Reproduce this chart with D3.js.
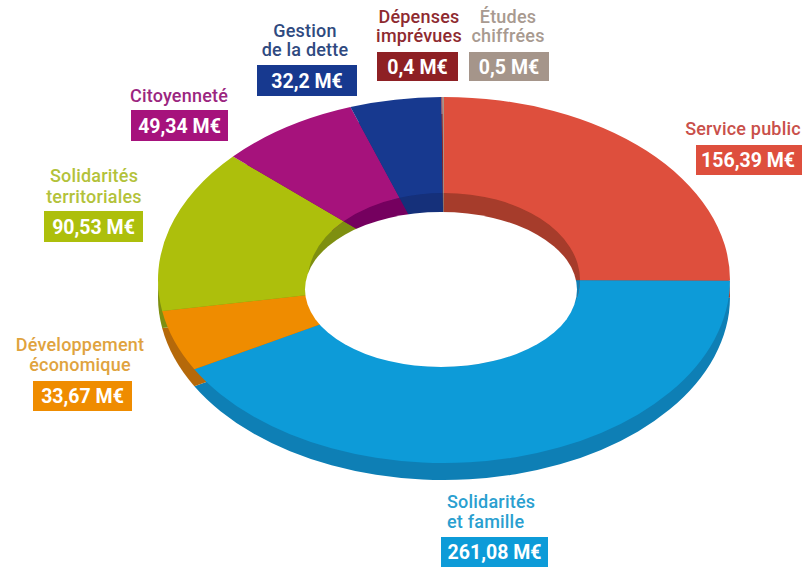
<!DOCTYPE html>
<html lang="fr">
<head>
<meta charset="UTF-8">
<title>Budget</title>
<style>
  html, body { margin: 0; background: #fff; }
  svg { display: block; }
  text { font-family: Roboto, "Noto Sans", sans-serif; font-weight: 500; }
  .name { font-size: 18px; letter-spacing: .2px; }
  .amount { font-size: 19.5px; font-weight: 700; fill: #fff; text-anchor: middle; }
</style>
</head>
<body>
<script src="https://cdn.jsdelivr.net/npm/d3@7"></script>
<script>
// clockwise from 12 o'clock
var categories = [
  ["Service public"],
  ["Solidarités", "et famille"],
  ["Développement", "économique"],
  ["Solidarités", "territoriales"],
  ["Citoyenneté"],
  ["Gestion", "de la dette"],
  ["Dépenses", "imprévues"],
  ["Études", "chiffrées"]
];
var values = [156.39, 261.08, 33.67, 90.53, 49.34, 32.2, 0.4, 0.5];

var faceColors = ["#de4f3d", "#0d9bd8", "#ef8c00", "#adbf0c", "#a6127c", "#17398f", "#8e2024", "#a5958a"];
var darkColors = ["#a63c2b", "#0e7fb5", "#b5690a", "#7e8f10", "#75005f", "#15307a", "#6d1a1c", "#8a7d74"];
var textColors = ["#c9504a", "#2a9fd0", "#e0a33e", "#b3c23a", "#9b2680", "#2f4a80", "#8e2a30", "#a89a90"];

// label layout: text x, first baseline, line step, box x0, y0, x1, y1, anchor
var labelLayout = [
  [743, 135, 0, 696, 145, 802, 175, "middle"],
  [447, 508, 20, 441, 537, 548, 567, "start"],
  [80, 351, 20, 33, 381, 132, 411, "middle"],
  [94, 182, 21, 44, 211, 143, 242, "middle"],
  [179, 102, 0, 131, 110, 228, 141, "middle"],
  [305, 37, 19, 257, 65, 357, 96, "middle"],
  [419, 23, 19, 377, 52, 458, 81, "middle"],
  [508, 23, 19, 469, 52, 549, 81, "middle"]
];

var width = 802, height = 567,
    cx = 444, cy = 280,
    rOuter = 286, rInner = 136,
    tilt = 0.64,
    depth = 17;

var svg = d3.select("body").append("svg")
    .attr("width", width)
    .attr("height", height);

var slices = d3.pie().sort(null)(values);
var disc = d3.arc().innerRadius(0).outerRadius(rOuter);
var ring = d3.arc().innerRadius(rInner).outerRadius(rOuter);
var well = d3.arc().innerRadius(0).outerRadius(rInner);

function flat(dy) {
  return "translate(" + cx + "," + (cy + dy) + ")scale(1," + tilt + ")";
}

// outer side of the cake
svg.append("g").attr("transform", flat(depth))
  .selectAll("path").data(slices).join("path")
    .attr("d", disc)
    .attr("fill", function(d, i) { return darkColors[i]; });

// inner wall of the hole
svg.append("g").attr("transform", flat(0))
  .selectAll("path").data(slices).join("path")
    .attr("d", well)
    .attr("fill", function(d, i) { return darkColors[i]; });

// top face
svg.append("g").attr("transform", flat(0))
  .selectAll("path").data(slices).join("path")
    .attr("d", ring)
    .attr("fill", function(d, i) { return faceColors[i]; });

// visible opening
svg.append("ellipse")
    .attr("cx", 441).attr("cy", 289.5)
    .attr("rx", 136).attr("ry", 77.5)
    .attr("fill", "#fff");

// labels
var label = svg.append("g").selectAll("g").data(categories).join("g");

label.each(function(lines, i) {
  var g = d3.select(this), l = labelLayout[i];
  lines.forEach(function(line, j) {
    g.append("text")
        .attr("class", "name")
        .attr("x", l[0])
        .attr("y", l[1] + j * l[2])
        .attr("text-anchor", l[7])
        .attr("fill", textColors[i])
        .text(line);
  });
  g.append("rect")
      .attr("x", l[3]).attr("y", l[4])
      .attr("width", l[5] - l[3]).attr("height", l[6] - l[4])
      .attr("fill", faceColors[i]);
  g.append("text")
      .attr("class", "amount")
      .attr("x", (l[3] + l[5]) / 2 - (i === 0 ? 1 : 0))
      .attr("y", (l[4] + l[6]) / 2 + 7)
      .text(String(values[i]).replace(".", ",") + " M€");
});
</script>
</body>
</html>
